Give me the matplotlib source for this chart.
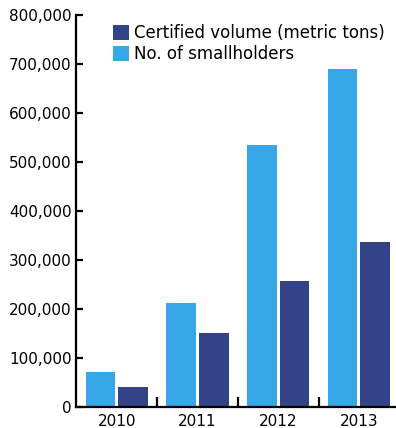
import numpy as np
import matplotlib
matplotlib.use("Agg")
import matplotlib.pyplot as plt
from matplotlib.ticker import FuncFormatter, FixedLocator

plt.rcParams["font.family"] = ["DejaVu Sans"]

years = ["2010", "2011", "2012", "2013"]
smallholders = [72000, 212000, 535000, 690000]
certified_volume = [41000, 151000, 257000, 337000]

LIGHT = "#38a7e7"
DARK = "#344387"

fig = plt.figure(figsize=(3.96, 4.28), dpi=100)
ax = fig.add_axes([0.193, 0.048, 0.807, 0.917])

x = np.arange(len(years))
w = 0.37
gap = 0.035
ax.bar(x - (w + gap) / 2, smallholders, w, color=LIGHT, label="No. of smallholders")
ax.bar(x + (w + gap) / 2, certified_volume, w, color=DARK, label="Certified volume (metric tons)")

ax.set_ylim(0, 800000)
ax.set_xlim(-0.5, 3.46)
ax.yaxis.set_major_locator(FixedLocator(np.arange(0, 800001, 100000)))
ax.yaxis.set_major_formatter(FuncFormatter(lambda v, p: f"{int(v):,}"))
ax.tick_params(axis="y", direction="in", length=5, width=1.6, labelsize=11, pad=3.5)

ax.set_xticks(x)
ax.set_xticklabels(years)
ax.tick_params(axis="x", which="major", length=0, labelsize=11, pad=5)
ax.set_xticks(x[:-1] + 0.5, minor=True)
ax.tick_params(axis="x", which="minor", direction="in", length=7.5, width=1.6)

for s in ("top", "right"):
    ax.spines[s].set_visible(False)
for s in ("left", "bottom"):
    ax.spines[s].set_linewidth(1.6)

# legend lists the dark series first
h, l = ax.get_legend_handles_labels()
fig.legend(h[::-1], l[::-1], loc="upper left", bbox_to_anchor=(112.7 / 396, 1 - 24 / 428),
           frameon=False, fontsize=12, handlelength=0.96, handleheight=0.96,
           handletextpad=0.3, labelspacing=0.2, borderpad=0, borderaxespad=0)

fig.savefig("out.png", dpi=100)
